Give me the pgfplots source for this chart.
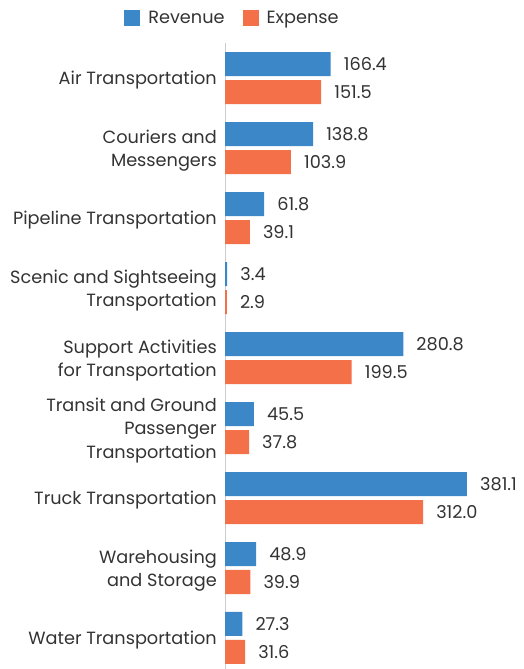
\documentclass[border=0pt]{standalone}
\usepackage{fontspec}
\setmainfont{Poppins}
\usepackage{pgfplots}
\pgfplotsset{compat=1.18}
\definecolor{rev}{HTML}{3B87C8}
\definecolor{exp}{HTML}{F37048}
\definecolor{txt}{HTML}{333333}
\begin{document}
\begin{tikzpicture}
\begin{axis}[
  name=ax,
  at={(225pt,0pt)}, anchor=north west,
  scale only axis,
  width=299pt, height=626pt,
  xmin=0, xmax=470.9,
  ymin=-0.5, ymax=8.443,
  y dir=reverse,
  xbar, bar width=24pt, bar shift=0pt,
  axis x line=none,
  axis y line*=left,
  y axis line style={draw=gray!40, line width=1pt},
  ytick={0,...,8},
  yticklabels={Air Transportation,{Couriers and\\Messengers},Pipeline Transportation,
    {Scenic and Sightseeing\\Transportation},{Support Activities\\for Transportation},
    {Transit and Ground\\Passenger\\Transportation},Truck Transportation,
    {Warehousing\\and Storage},Water Transportation},
  yticklabel style={align=right, font=\fontsize{17.7}{23.5}\selectfont, text=txt, inner sep=0pt, xshift=-8pt, yshift=-2.5pt},
  major tick length=0pt,
  clip=false,
  nodes near coords,
  nodes near coords style={font=\fontsize{17.7}{20}\selectfont, text=txt, anchor=west, inner sep=0pt, xshift=13pt,
    /pgf/number format/.cd, fixed, fixed zerofill, precision=1, assume math mode=true},
  legend style={at={(axis description cs:0.025,1.04)}, anchor=center, draw=none, fill=none,
    legend columns=2, font=\fontsize{17.7}{20}\selectfont, text=txt,
    /tikz/every odd column/.style={column sep=6pt},
    /tikz/every even column/.style={column sep=16pt}},
  legend image code/.code={\fill[#1] (0pt,-8pt) rectangle (16pt,8pt);},
]
\addplot[draw=none, fill=rev] coordinates {(166.4,-0.2) (138.8,0.8) (61.8,1.8) (3.4,2.8) (280.8,3.8) (45.5,4.8) (381.1,5.8) (48.9,6.8) (27.3,7.8)};
\addplot[draw=none, fill=exp] coordinates {(151.5,0.2) (103.9,1.2) (39.1,2.2) (2.9,3.2) (199.5,4.2) (37.8,5.2) (312.0,6.2) (39.9,7.2) (31.6,8.2)};
\legend{Revenue, Expense}
\end{axis}
\pgfresetboundingbox
\path (0pt,-626pt) rectangle (524pt,43pt);
\end{tikzpicture}
\end{document}
